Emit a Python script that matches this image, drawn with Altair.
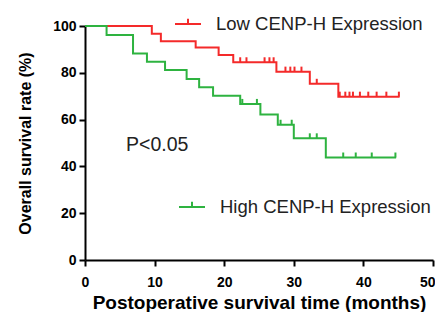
import altair as alt
import pandas as pd

# Kaplan-Meier step data (months, survival %)
low_times = [0, 9.6, 10.9, 15.9, 19.2, 21.3, 27.5, 32.3, 36.4, 45.2]
low_surv = [100, 96.7, 93.5, 90.8, 87.6, 84.5, 80.5, 75.3, 69.8, 69.8]
low_censor = [22.3, 23.2, 25.8, 26.5, 27.1, 28.8, 29.5, 30.1, 31.1, 33.3,
              36.6, 37.4, 38.0, 38.5, 39.5, 40.7, 41.9, 43.3, 45.1]

high_times = [0, 3.1, 6.9, 8.9, 11.5, 14.6, 16.4, 18.4, 22.3, 25.2, 27.7, 30.0, 34.6, 44.7]
high_surv = [100, 96.2, 88.3, 84.7, 81.2, 77.4, 73.8, 70.2, 66.7, 62.2, 57.8, 52.0, 43.8, 43.8]
high_censor = [22.6, 24.7, 28.1, 29.7, 32.3, 33.3, 37.1, 38.9, 41.2, 44.6]

groups = ["Low CENP-H Expression", "High CENP-H Expression"]
colors = ["#f42a2a", "#2eb340"]
x_ticks = [0, 10, 20, 30, 40, 50]
y_ticks = [0, 20, 40, 60, 80, 100]


def step_value(times, surv, t):
    v = surv[0]
    for ti, si in zip(times, surv):
        if ti <= t:
            v = si
    return v


lines = pd.DataFrame(
    [{"t": t, "s": s, "g": groups[0], "o": 0} for t, s in zip(low_times, low_surv)]
    + [{"t": t, "s": s, "g": groups[1], "o": 1} for t, s in zip(high_times, high_surv)]
)
censors = pd.DataFrame(
    [{"t": t, "s": step_value(low_times, low_surv, t), "g": groups[0]} for t in low_censor]
    + [{"t": t, "s": step_value(high_times, high_surv, t), "g": groups[1]} for t in high_censor]
)

FONT = "Liberation Sans"
xs = alt.Scale(domain=[0, 50], nice=False)
ys = alt.Scale(domain=[0, 100], nice=False)
cs = alt.Scale(domain=groups, range=colors)

x_axis = alt.Axis(values=x_ticks, title="Postoperative survival time (months)",
                  grid=False, labelPadding=9, titlePadding=4, labelFlush=False,
                  labelAlign={"expr": "datum.value == 50 ? 'right' : 'center'"},
                  labelOffset={"expr": "datum.value == 50 ? 2 : 0"},
                  titleFontSize=19)
y_axis = alt.Axis(values=y_ticks, title="Overall survival rate (%)",
                  grid=False, labelPadding=3, titlePadding=19, titleFontSize=16)

line_layer = alt.Chart(lines).mark_line(interpolate="step-after", strokeWidth=2).encode(
    x=alt.X("t:Q", scale=xs, axis=x_axis),
    y=alt.Y("s:Q", scale=ys, axis=y_axis),
    color=alt.Color("g:N", scale=cs, legend=None),
    detail="g:N",
    order="o:Q",
)

censor_layer = alt.Chart(censors).mark_point(
    shape="M0,0L0,-1", size=100, strokeWidth=2, filled=False, opacity=1
).encode(
    x=alt.X("t:Q", scale=xs),
    y=alt.Y("s:Q", scale=ys),
    color=alt.Color("g:N", scale=cs, legend=None),
)

leg_df = pd.DataFrame({
    "g": groups,
    "sx": [103, 107],
    "sy": [-2, 181],
    "tx": [131, 135],
})

leg_sym = alt.Chart(leg_df).mark_point(
    shape="M-1,0L1,0M0,0L0,-0.4", size=676, strokeWidth=2, filled=False, opacity=1
).encode(
    x=alt.X("sx:Q", scale=None),
    y=alt.Y("sy:Q", scale=None),
    color=alt.Color("g:N", scale=cs, legend=None),
)

leg_txt = alt.Chart(leg_df).mark_text(
    align="left", baseline="middle", font=FONT, fontSize=18.5, color="#222222"
).encode(
    x=alt.X("tx:Q", scale=None),
    y=alt.Y("sy:Q", scale=None),
    text="g:N",
)

p_txt = alt.Chart(pd.DataFrame({"label": ["P<0.05"]})).mark_text(
    align="left", baseline="middle", font=FONT, fontSize=19.5, color="#222222"
).encode(
    x=alt.value(41),
    y=alt.value(119),
    text="label:N",
)

chart = alt.layer(line_layer, censor_layer, leg_sym, leg_txt, p_txt).properties(
    width=348,
    height=234,
    autosize=alt.AutoSizeParams(type="none"),
    padding={"left": 77, "top": 18, "right": 2, "bottom": 52},
).configure_view(stroke=None).configure_axis(
    domainColor="black", domainWidth=2, tickColor="black", tickWidth=2, tickSize=6,
    labelFont=FONT, labelFontSize=14, labelFontWeight="bold", labelColor="black",
    titleFont=FONT, titleFontWeight="bold", titleColor="black",
)

chart.save("out.html", embed_options={"renderer": "svg", "actions": False})
